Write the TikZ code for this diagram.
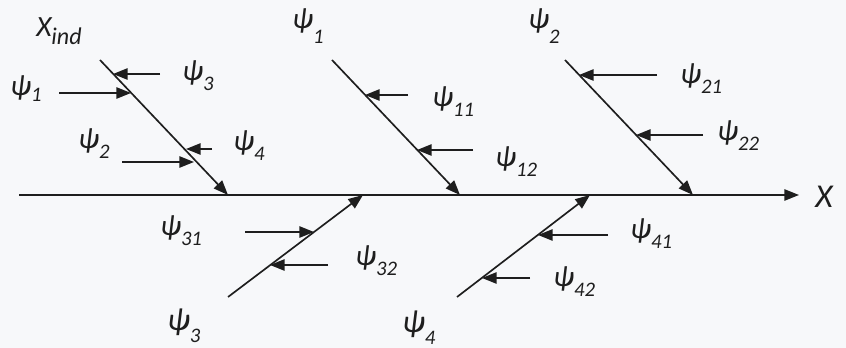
\documentclass[tikz,border=0pt]{standalone}
\usepackage{fontspec}
\setmainfont{Carlito}
\usetikzlibrary{arrows.meta}
\definecolor{linec}{HTML}{1E1E1E}
\definecolor{labc}{HTML}{1E1E1E}
\definecolor{bgc}{HTML}{F7F8FA}
\newcommand\psisub[2][0.33em]{ψ\raisebox{-#1}{\fontsize{15.5}{17}\selectfont #2}}
\tikzset{
  bone/.style={line width=1.25pt, draw=linec, -{Triangle[length=11pt,width=8.5pt]}},
  twig/.style={line width=1.25pt, draw=linec, -{Triangle[length=11pt,width=8.5pt]}},
  lab/.style={anchor=base west, inner sep=0pt, text=labc, font=\fontsize{22}{24}\selectfont\itshape},
  biglab/.style={lab, font=\fontsize{24}{26}\selectfont\itshape},
}
\begin{document}
\begin{tikzpicture}[x=0.75pt, y=-0.75pt]
\fill[bgc] (0,0) rectangle (846,348);
\useasboundingbox (0,0) rectangle (846,348);
% spine
\coordinate (s0) at (19,195);
\node[lab, font=\fontsize{25}{27}\selectfont\itshape] (X) at (815,208) {X};
\draw[bone] (s0) -- (799,195) coordinate (s1);
% bone ends
\coordinate (a0) at (100,60);  \coordinate (a1) at (228,195);
\coordinate (b0) at (332,60);  \coordinate (b1) at (460,195);
\coordinate (c0) at (565,60);  \coordinate (c1) at (693,195);
\coordinate (d0) at (228,297); \coordinate (d1) at (363,195);
\coordinate (e0) at (457,297); \coordinate (e1) at (590,195);
\draw[bone] (a0) -- (a1);
\draw[bone] (b0) -- (b1);
\draw[bone] (c0) -- (c1);
\draw[bone] (d0) -- (d1);
\draw[bone] (e0) -- (e1);
% main labels
\node[lab, font=\fontsize{22}{24}\selectfont\itshape] (Xind) at (36,37) {X\raisebox{-0.27em}{\fontsize{18}{20}\selectfont ind}};
\node[lab] (P1) at (292,29) {\psisub[0.5em]{1}};
\node[lab] (P2) at (528,29) {\psisub[0.5em]{2}};
\node[biglab] (P3) at (167,331) {\psisub[0.36em]{3}};
\node[biglab] (P4) at (402,333) {\psisub[0.36em]{4}};
% twigs on bone A
\coordinate (t3s) at (160,74);  \coordinate (t3e) at (113,74);
\coordinate (t1s) at (59,93);   \coordinate (t1e) at (131,93);
\coordinate (t4s) at (212,149); \coordinate (t4e) at (186,149);
\coordinate (t2s) at (122,162); \coordinate (t2e) at (194,162);
\draw[twig] (t3s) -- (t3e);
\draw[twig] (t1s) -- (t1e);
\draw[twig] (t4s) -- (t4e);
\draw[twig] (t2s) -- (t2e);
\node[lab] (l3) at (182,81) {\psisub{3}};
\node[lab] (l1) at (10,96) {\psisub[0.2em]{1}};
\node[lab] (l2) at (78,149) {\psisub{2}};
\node[lab] (l4) at (233,151) {\psisub{4}};
% twigs on bone B
\coordinate (t11s) at (408,95);  \coordinate (t11e) at (365,95);
\coordinate (t12s) at (473,150); \coordinate (t12e) at (417,150);
\draw[twig] (t11s) -- (t11e);
\draw[twig] (t12s) -- (t12e);
\node[lab] (l11) at (432,107) {\psisub{11}};
\node[lab] (l12) at (495,167) {\psisub{12}};
% twigs on bone C
\coordinate (t21s) at (657,75);  \coordinate (t21e) at (579,75);
\coordinate (t22s) at (703,135); \coordinate (t22e) at (636,135);
\draw[twig] (t21s) -- (t21e);
\draw[twig] (t22s) -- (t22e);
\node[lab] (l21) at (680,84) {\psisub{21}};
\node[lab] (l22) at (717,141) {\psisub{22}};
% twigs on bone D
\coordinate (t31s) at (245,232); \coordinate (t31e) at (314,232);
\coordinate (t32s) at (328,265); \coordinate (t32e) at (270,265);
\draw[twig] (t31s) -- (t31e);
\draw[twig] (t32s) -- (t32e);
\node[lab] (l31) at (160,236) {\psisub{31}};
\node[lab] (l32) at (355,266) {\psisub{32}};
% twigs on bone E
\coordinate (t41s) at (608,235); \coordinate (t41e) at (538,235);
\coordinate (t42s) at (530,278); \coordinate (t42e) at (482,278);
\draw[twig] (t41s) -- (t41e);
\draw[twig] (t42s) -- (t42e);
\node[lab] (l41) at (630,239) {\psisub{41}};
\node[lab] (l42) at (553,287) {\psisub{42}};
\end{tikzpicture}
\end{document}
